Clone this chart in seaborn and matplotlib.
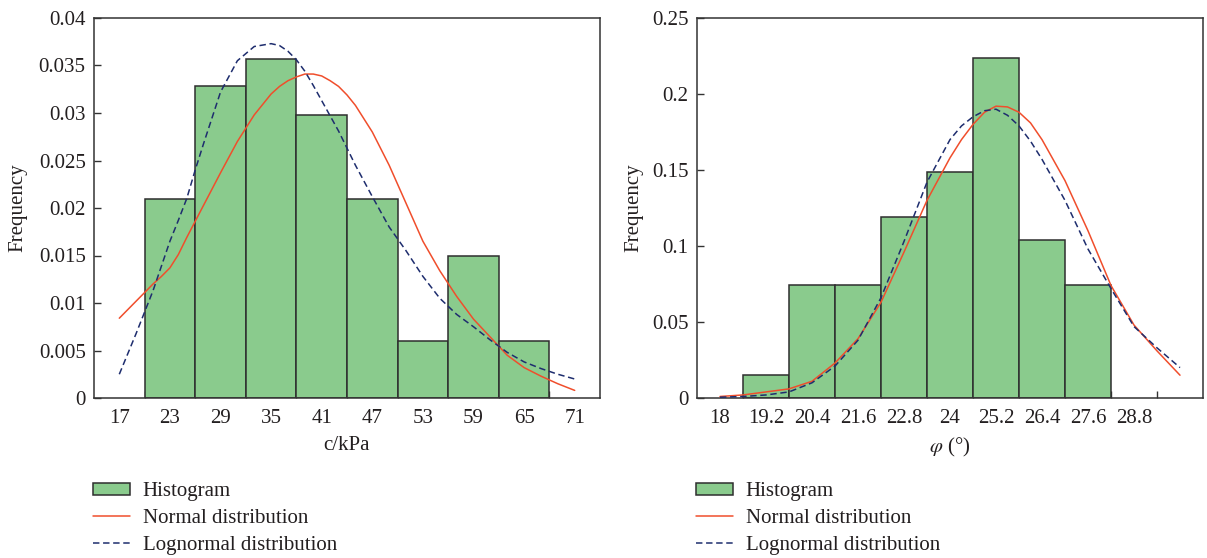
import matplotlib
matplotlib.use("Agg")
import matplotlib.pyplot as plt
from matplotlib.patches import Patch
from matplotlib.lines import Line2D
from matplotlib.ticker import FixedLocator
import seaborn as sns
import pandas as pd

# ---------------- data ----------------
# left panel: cohesion c (kPa)
c_centers = [23, 29, 35, 41, 47, 53, 59, 65]
c_freq = [0.0209, 0.0328, 0.0357, 0.0298, 0.0209, 0.0060, 0.0149, 0.0060]
c_ticks = [17, 23, 29, 35, 41, 47, 53, 59, 65, 71]
c_yticks = [0, 0.005, 0.01, 0.015, 0.02, 0.025, 0.03, 0.035, 0.04]
c_ytick_labels = ["0", "0.005", "0.01", "0.015", "0.02", "0.025", "0.03",
                  "0.035", "0.04"]
c_curve_x = [17, 19, 21, 22, 23, 24, 25, 26, 27, 29, 31, 33, 35, 36, 37, 38,
             39, 40, 41, 42, 43, 44, 45, 47, 49, 51, 53, 55, 57, 59, 61, 63,
             65, 67, 69, 71]
c_normal = [0.0084, 0.0102, 0.0120, 0.0128, 0.0137, 0.0151, 0.0169, 0.0186,
            0.0203, 0.0237, 0.0270, 0.0298, 0.0320, 0.0328, 0.0334, 0.0338,
            0.0341, 0.0341, 0.0339, 0.0334, 0.0328, 0.0319, 0.0308, 0.0280,
            0.0245, 0.0205, 0.0165, 0.0134, 0.0107, 0.0083, 0.0064, 0.0045,
            0.0032, 0.0023, 0.0015, 0.0008]
c_lognormal = [0.0025, 0.0068, 0.0113, 0.0139, 0.0165, 0.0187, 0.0210, 0.0240,
               0.0268, 0.0322, 0.0355, 0.0370, 0.0373, 0.0371, 0.0365, 0.0356,
               0.0344, 0.0329, 0.0313, 0.0297, 0.0281, 0.0263, 0.0245, 0.0212,
               0.0180, 0.0155, 0.0128, 0.0105, 0.0088, 0.0075, 0.0061, 0.0048,
               0.0038, 0.0031, 0.0025, 0.0020]

# right panel: friction angle phi (deg)
p_centers = [19.2, 20.4, 21.6, 22.8, 24.0, 25.2, 26.4, 27.6]
p_freq = [0.0151, 0.0746, 0.0746, 0.119, 0.149, 0.2235, 0.104, 0.0746]
p_ticks = [18, 19.2, 20.4, 21.6, 22.8, 24, 25.2, 26.4, 27.6, 28.8]
p_tick_labels = ["18", "19.2", "20.4", "21.6", "22.8", "24", "25.2", "26.4",
                 "27.6", "28.8"]
p_yticks = [0, 0.05, 0.1, 0.15, 0.2, 0.25]
p_ytick_labels = ["0", "0.05", "0.1", "0.15", "0.2", "0.25"]
p_curve_x = [18.0, 18.6, 19.2, 19.8, 20.4, 21.0, 21.6, 22.2, 22.8, 23.4, 24.0,
             24.3, 24.6, 24.9, 25.2, 25.5, 25.8, 26.1, 26.4, 27.0, 27.6, 28.2,
             28.8, 29.4, 30.0]
p_normal = [0.001, 0.002, 0.004, 0.006, 0.011, 0.023, 0.039, 0.063, 0.096,
            0.130, 0.158, 0.170, 0.180, 0.188, 0.192, 0.1915, 0.188, 0.181,
            0.170, 0.143, 0.110, 0.074, 0.048, 0.031, 0.015]
p_lognormal = [0.0005, 0.001, 0.002, 0.004, 0.010, 0.021, 0.038, 0.066, 0.103,
               0.142, 0.170, 0.179, 0.185, 0.189, 0.190, 0.186, 0.179, 0.169,
               0.157, 0.130, 0.098, 0.072, 0.047, 0.033, 0.020]

legend_labels = ["Histogram", "Normal distribution", "Lognormal distribution"]

# ---------------- style ----------------
sns.set_theme(style="white")
plt.rcParams["font.family"] = ["Liberation Serif", "DejaVu Serif"]
plt.rcParams["mathtext.fontset"] = "stix"

BAR = "#8ACB8D"
EDGE = "#2E2E2E"
RED = "#F04E2C"
NAVY = "#1E2D6E"
TXT = "#231F20"
FS = 15

W, H = 1207, 558
fig = plt.figure(figsize=(W / 100, H / 100), dpi=100)


def axes_px(x0, y0, x1, y1):
    return fig.add_axes([x0 / W, 1 - y1 / H, (x1 - x0) / W, (y1 - y0) / H])


def style_axes(ax):
    for s in ax.spines.values():
        s.set_color("#333333")
        s.set_linewidth(1.1)
    ax.tick_params(axis="y", which="major", direction="in", length=5,
                   width=1.0, color="#333333", labelsize=FS, labelcolor=TXT,
                   left=True, right=False, pad=6)
    ax.tick_params(axis="x", which="major", length=0, labelsize=FS,
                   labelcolor=TXT, pad=8)
    ax.tick_params(axis="x", which="minor", direction="in", length=5,
                   width=1.0, color="#333333", bottom=True, top=False)
    ax.grid(False)


def draw_panel(ax, centers, freq, width, curve_x, normal, lognormal):
    lo = centers[0] - width / 2
    hi = centers[-1] + width / 2
    sns.histplot(x=centers, weights=freq, binwidth=width, binrange=(lo, hi),
                 stat="count", color=BAR, edgecolor=EDGE, linewidth=1.1,
                 alpha=1.0, ax=ax, zorder=2)
    dfc = pd.DataFrame({"x": curve_x, "n": normal, "l": lognormal})
    sns.lineplot(data=dfc, x="x", y="n", color=RED, linewidth=1.1, ax=ax,
                 zorder=3, estimator=None)
    sns.lineplot(data=dfc, x="x", y="l", color=NAVY, linewidth=1.1, ax=ax,
                 zorder=3, estimator=None)
    ax.lines[-1].set_dashes((4.2, 2.4))
    for ln in ax.lines:
        ln.set_solid_joinstyle("round")
        ln.set_dash_joinstyle("round")


# ---- left ----
ax1 = axes_px(94, 18, 600, 398)
draw_panel(ax1, c_centers, c_freq, 6, c_curve_x, c_normal, c_lognormal)
ax1.set_xlim(14, 74)
ax1.set_ylim(0, 0.04)
ax1.xaxis.set_major_locator(FixedLocator(c_ticks))
ax1.set_xticklabels([str(t) for t in c_ticks])
ax1.xaxis.set_minor_locator(FixedLocator([20 + 6 * i for i in range(9)]))
ax1.yaxis.set_major_locator(FixedLocator(c_yticks))
ax1.set_yticklabels(c_ytick_labels)
ax1.set_xlabel("c/kPa", fontsize=FS, color=TXT, labelpad=6)
ax1.set_ylabel("Frequency", fontsize=FS, color=TXT, labelpad=8)
style_axes(ax1)

# ---- right ----
ax2 = axes_px(697, 18, 1203, 398)
draw_panel(ax2, p_centers, p_freq, 1.2, p_curve_x, p_normal, p_lognormal)
ax2.set_xlim(17.4, 30.6)
ax2.set_ylim(0, 0.25)
ax2.xaxis.set_major_locator(FixedLocator(p_ticks))
ax2.set_xticklabels(p_tick_labels)
ax2.xaxis.set_minor_locator(FixedLocator([18.6 + 1.2 * i for i in range(10)]))
ax2.yaxis.set_major_locator(FixedLocator(p_yticks))
ax2.set_yticklabels(p_ytick_labels)
ax2.set_xlabel(r"$\varphi$ (°)", fontsize=FS, color=TXT, labelpad=6)
ax2.set_ylabel("Frequency", fontsize=FS, color=TXT, labelpad=6)
style_axes(ax2)

# ---- legends ----
def make_handles():
    return [Patch(facecolor=BAR, edgecolor=EDGE, linewidth=1.1),
            Line2D([], [], color=RED, linewidth=1.1),
            Line2D([], [], color=NAVY, linewidth=1.1, dashes=(4.2, 2.4))]


for xpx in (85, 688):
    fig.legend(make_handles(), legend_labels, loc="upper left",
               bbox_to_anchor=(xpx / W, 1 - 474 / H), frameon=False,
               fontsize=FS, handlelength=1.75, handleheight=0.55,
               handletextpad=0.62, labelspacing=0.38, borderaxespad=0,
               labelcolor=TXT)

fig.savefig("out.png", dpi=100)
